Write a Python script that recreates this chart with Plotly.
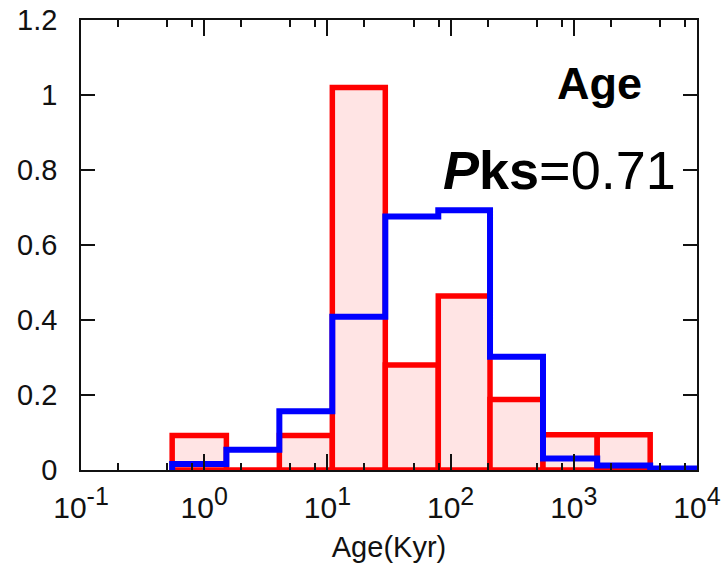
import plotly.graph_objects as go
import numpy as np

# bin edges, as log10(Age / Kyr)
bin_edges_log = [-0.26, 0.18, 0.61, 1.04, 1.47, 1.90, 2.32, 2.75, 3.19, 3.62, 4.05]
# red histogram (filled bars), one per bin (first 9 bins)
red_heights = [0.092, 0.0, 0.092, 1.02, 0.28, 0.464, 0.188, 0.094, 0.094]
# blue histogram (step outline), one per bin (10 bins)
blue_heights = [0.016, 0.054, 0.157, 0.409, 0.676, 0.693, 0.302, 0.031, 0.012, 0.004]

x_tick_vals = [-1, 0, 1, 2, 3, 4]
x_tick_exps = ["-1", "0", "1", "2", "3", "4"]
y_tick_vals = [0, 0.2, 0.4, 0.6, 0.8, 1.0, 1.2]
y_tick_text = ["0", "0.2", "0.4", "0.6", "0.8", "1", "1.2"]
minor_factors = [2, 5, 8]

x_title = "Age(Kyr)"
label_age = "<b>Age</b>"
label_pks = "<b><i>P</i>ks</b>=0.71"

FONT = "Liberation Sans, Arial, sans-serif"
TXT = "#111111"

x_tick_text = ["10<sup><span style='font-size:25px'>%s</span></sup>" % e for e in x_tick_exps]

edges = np.array(bin_edges_log)
nred = len(red_heights)
red_centers = (edges[:nred] + edges[1:nred + 1]) / 2
red_widths = edges[1:nred + 1] - edges[:nred]

blue_x = [edges[0]] + list(edges[:len(blue_heights)]) + [edges[len(blue_heights)]]
blue_y = [0] + list(blue_heights) + [blue_heights[-1]]

minor_vals = [k + np.log10(f) for k in range(-1, 4) for f in minor_factors]

fig = go.Figure()
fig.add_trace(go.Bar(
    x=red_centers, y=red_heights, width=red_widths,
    marker=dict(color="rgb(255,228,228)", line=dict(color="#ff0000", width=5.5)),
    showlegend=False, hoverinfo="skip",
))
fig.add_trace(go.Scatter(
    x=blue_x, y=blue_y, mode="lines", line=dict(color="#0000ff", width=6, shape="hv"),
    showlegend=False, hoverinfo="skip",
))

fig.add_annotation(x=3.205, y=1.03, xref="x", yref="y", text=label_age, showarrow=False,
                   font=dict(family=FONT, size=45, color="#000000"),
                   xanchor="center", yanchor="middle")
fig.add_annotation(x=2.88, y=0.80, xref="x", yref="y", text=label_pks, showarrow=False,
                   font=dict(family=FONT, size=54, color="#000000"),
                   xanchor="center", yanchor="middle")

fig.update_layout(
    width=721, height=568,
    margin=dict(l=81, r=24, t=20, b=98, autoexpand=False),
    paper_bgcolor="white", plot_bgcolor="white",
    barmode="overlay",
    font=dict(family=FONT, color=TXT),
)
fig.update_xaxes(
    range=[-1, 4], tickmode="array", tickvals=x_tick_vals, ticktext=x_tick_text,
    ticks="inside", ticklen=16, tickwidth=1.5, tickcolor="#111",
    minor=dict(tickmode="array", tickvals=minor_vals, ticks="inside", ticklen=7,
               tickwidth=1.5, tickcolor="#111", showgrid=False),
    showline=True, linecolor="#111", linewidth=1.5, mirror="allticks",
    showgrid=False, zeroline=False, automargin=False,
    tickfont=dict(family=FONT, size=30, color=TXT),
    ticklabelstandoff=10,
    title=dict(text=x_title, font=dict(family=FONT, size=29, color=TXT), standoff=14),
    layer="above traces",
)
fig.update_yaxes(
    range=[0, 1.2], tickmode="array", tickvals=y_tick_vals, ticktext=y_tick_text,
    ticks="inside", ticklen=14, tickwidth=1.5, tickcolor="#111",
    showline=True, linecolor="#111", linewidth=1.5, mirror="allticks",
    showgrid=False, zeroline=False, automargin=False,
    tickfont=dict(family=FONT, size=29, color=TXT),
    ticklabelstandoff=16,
)

fig.write_html("out.html")
